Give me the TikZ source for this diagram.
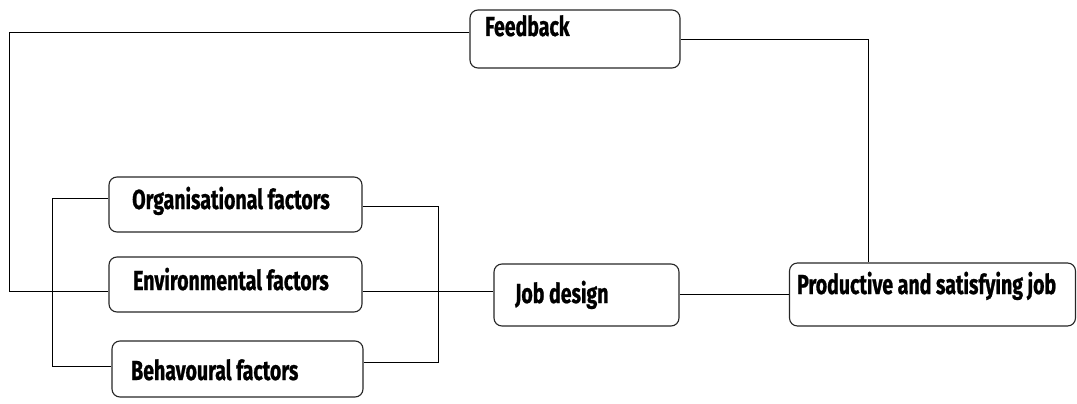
\documentclass[tikz,border=0pt]{standalone}
\usepackage{fontspec}
\setmainfont{Fira Sans}[FakeStretch=0.71, BoldFeatures={FakeBold=0.8}]
\begin{document}
\begin{tikzpicture}[x=1pt,y=-1pt,
  box/.style={draw=black!85, line width=1.1pt, rounded corners=8pt, inner sep=0pt},
  lbl/.style={anchor=base west, inner sep=0pt, font=\fontsize{27.5}{30}\selectfont\bfseries},
  conn/.style={draw=black, line width=1pt}]
\useasboundingbox (0,0) rectangle (1077,404);

% boxes
\node[box, minimum width=210pt, minimum height=58pt] (fb)  at (575,39) {};
\node[box, minimum width=253pt, minimum height=55pt] (org) at (235.5,204.5) {};
\node[box, minimum width=253pt, minimum height=55pt] (env) at (235.5,284.5) {};
\node[box, minimum width=251pt, minimum height=56pt] (beh) at (237.5,369) {};
\node[box, minimum width=185pt, minimum height=62pt] (job) at (586.5,295) {};
\node[box, minimum width=286pt, minimum height=63pt] (prod) at (932.5,294.5) {};

% texts
\node[lbl] (fbt)   at (485,36)  {Feedback};
\node[lbl] (orgt)  at (132,209) {Organisational factors};
\node[lbl] (envt)  at (133,290) {Environmental factors};
\node[lbl] (beht)  at (131,380) {Behavoural factors};
\node[lbl] (jobt)  at (515,303) {Job design};
\node[lbl] (prodt) at (797,294) {Productive and satisfying job};

% bend points
\coordinate (fbL) at (9,33);
\coordinate (fbR) at (868,40);
\coordinate (busL) at (52,198);
\coordinate (busLb) at (52,366);
\coordinate (busR) at (438,206);
\coordinate (busRb) at (438,362);
\coordinate (yEnv) at (0,291);
\coordinate (yJob) at (0,294);

% feedback loop
\draw[conn] (fb.west |- fbL) -- (fbL) |- (env.west |- yEnv);
\draw[conn] (fb.east |- fbR) -- (fbR) -- (prod.north -| fbR);

% input buses
\draw[conn] (org.west |- busL) -- (busL) -- (busLb) -- (beh.west |- busLb);
\draw[conn] (org.east |- busR) -- (busR) -- (busRb) -- (beh.east |- busRb);

% main flow
\draw[conn] (env.east |- yEnv) -- (job.west |- yEnv);
\draw[conn] (job.east |- yJob) -- (prod.west |- yJob);
\end{tikzpicture}
\end{document}
